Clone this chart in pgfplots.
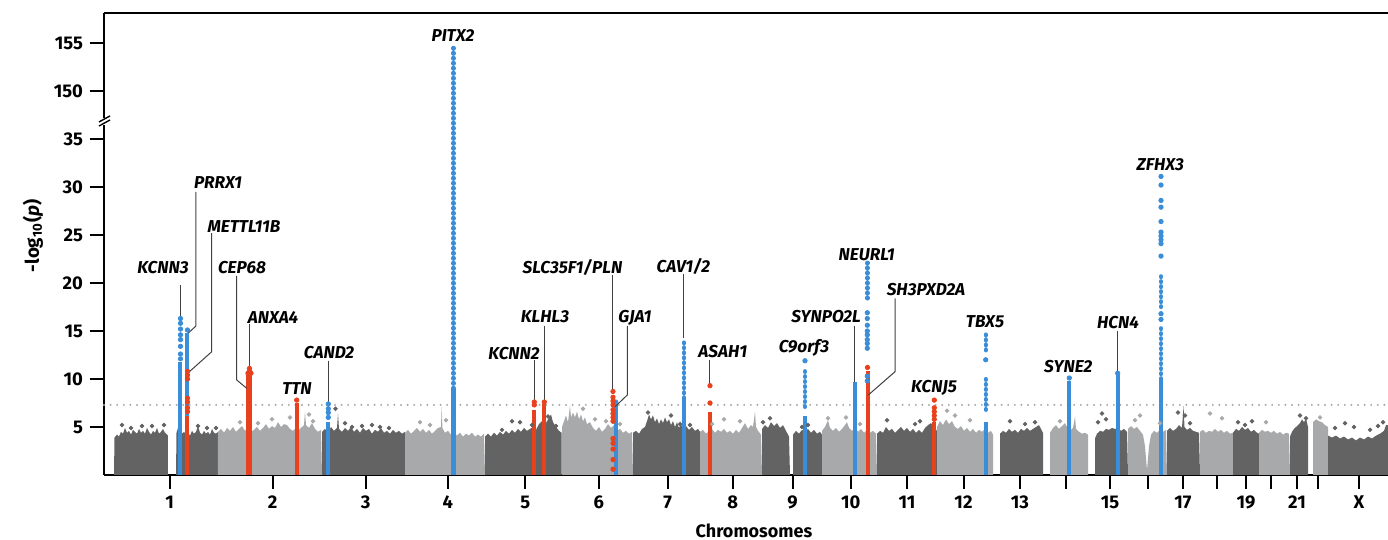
\documentclass[border=0pt]{standalone}
\usepackage{fontspec}
\setmainfont{Fira Sans}
\usepackage{pgfplots}
\pgfplotsset{compat=1.18}
\definecolor{dgrey}{HTML}{636363}
\definecolor{lgrey}{HTML}{A7A9AA}
\definecolor{bcol}{HTML}{3A8DD8}
\definecolor{rcol}{HTML}{E8411E}
\tikzset{
  gl/.style={font=\fontsize{8.6}{10}\selectfont\bfseries\itshape, inner sep=0pt},
  lead/.style={draw=black!75, line width=0.5pt},
}
\pgfplotsset{
  dk/.style={fill=dgrey, draw=none},
  lt/.style={fill=lgrey, draw=none},
  bcolm/.style={bcol, line width=2pt},
  rcolm/.style={rcol, line width=2pt},
  beads/.style={bcol, line width=2.2pt, line cap=round, dash pattern=on 0.3pt off 2.2pt},
  bdot/.style={only marks, mark=*, mark size=1.1pt, color=bcol},
  rdot/.style={only marks, mark=*, mark size=1.1pt, color=rcol},
  ddot/.style={only marks, mark=*, mark size=0.9pt, color=dgrey},
  ldot/.style={only marks, mark=*, mark size=0.9pt, color=lgrey},
}
\begin{document}
\begin{tikzpicture}
\useasboundingbox (-52pt,-32.5pt) rectangle (642pt,237.5pt);
\begin{axis}[
  at={(0,0)}, anchor=south west,
  scale only axis, width=642pt, height=230.75pt,
  xmin=104, xmax=1388, ymin=0, ymax=48.07,
  clip=false,
  axis x line*=bottom, axis y line*=left,
  axis line style={line width=1pt, black},
  tick align=outside, major tick length=7pt,
  tick style={line width=1pt, black},
  xtick={169.7,272.6,365.6,447.7,525.3,598.8,667.6,732.8,792.5,850.7,907,963.5,1019.8,1066,1110,1148,1183,1217,1246,1271,1297,1318,1359},
  xticklabels={1,2,3,4,5,6,7,8,9,10,11,12,13,,15,,17,,19,,21,,X},
  ytick={5,10,15,20,25,30,35,40,45},
  yticklabels={5,10,15,20,25,30,35,150,155},
  ticklabel style={font=\fontsize{9.2}{10}\selectfont\bfseries},
]
% chromosome clouds
\addplot[dk] coordinates {(114,0)(114.5,3.9)(117,4.2)(119,4.0)(121,4.5)(123,4.3)(125,4.9)(127,4.4)(129,4.6)(131,4.2)(133,4.7)(135,4.5)(137,4.3)(139,4.8)(141,4.4)(143,4.6)(145,4.3)(147,4.9)(149,4.5)(151,4.2)(153,4.6)(155,4.4)(157,4.9)(159,4.3)(161,4.5)(163,4.8)(165,4.4)(167,4.2)(168,4.1)(168,0)};
\addplot[dk] coordinates {(176,0)(176.5,4.4)(178,4.9)(180,4.6)(182,4.3)(184,4.5)(186,4.2)(188,4.4)(190,4.1)(192,4.6)(194,4.3)(196,4.5)(198,5.1)(200,4.4)(202,4.2)(204,4.6)(206,4.3)(208,4.5)(210,4.2)(212,4.8)(214,4.4)(216,4.3)(218,4.5)(218,0)};
\addplot[lt] coordinates {(218,0)(218,4.5)(221,4.8)(224,4.4)(227,4.9)(230,4.6)(233,5.0)(236,4.5)(239,4.8)(242,5.1)(245,4.6)(248,4.9)(251,4.5)(254,4.7)(257,5.0)(260,4.6)(263,4.9)(266,5.3)(269,4.8)(272,5.1)(275,4.9)(278,5.5)(281,5.0)(284,5.3)(287,5.2)(290,4.8)(293,4.6)(296,4.9)(299,4.7)(302,5.0)(304,5.2)(305,6.6)(306,5.2)(309,4.9)(312,5.4)(315,4.8)(318,4.5)(321,4.7)(322,0)};
\addplot[dk] coordinates {(322,0)(322,4.5)(325,4.8)(328,4.4)(331,5.0)(334,4.6)(337,4.9)(338,6.4)(339,4.8)(342,4.5)(345,4.9)(348,4.6)(351,5.0)(354,4.5)(357,4.8)(360,4.4)(363,4.9)(366,4.6)(369,4.8)(372,4.3)(375,4.7)(378,4.5)(381,4.9)(384,4.4)(387,4.6)(390,4.3)(393,4.7)(396,4.4)(399,4.6)(402,4.3)(405,4.5)(405,0)};
\addplot[lt] coordinates {(405,0)(405,4.4)(408,4.7)(411,4.3)(414,4.6)(417,4.9)(420,4.5)(423,4.8)(426,4.4)(429,4.7)(432,4.3)(435,4.6)(438,4.9)(441,5.0)(441.7,7.2)(442.4,4.9)(445,4.4)(448,4.6)(451,4.2)(454,4.5)(457,4.1)(460,4.4)(463,4.0)(466,4.3)(469,4.1)(472,4.4)(475,4.0)(478,4.2)(481,4.0)(484,4.3)(485,0)};
\addplot[dk] coordinates {(485,0)(485,4.0)(488,4.3)(491,4.0)(494,4.4)(497,4.1)(500,4.5)(503,4.2)(506,4.6)(509,4.3)(512,4.7)(515,4.4)(518,4.8)(521,4.5)(524,4.9)(527,4.6)(530,4.8)(533,5.0)(536,4.7)(539,5.3)(542,5.6)(545,5.2)(548,5.8)(551,6.3)(553,5.5)(556,5.0)(559,4.6)(561.7,4.4)(561.7,0)};
\addplot[lt] coordinates {(562,0)(562,5.0)(564,5.6)(566,6.2)(568,5.5)(570,7.2)(571,6.0)(573,6.5)(575,6.0)(577,6.6)(579,5.8)(581,6.3)(583,5.6)(585,6.0)(587,5.3)(590,5.5)(593,4.9)(596,4.6)(599,5.0)(602,4.5)(605,4.8)(608,5.3)(611,4.9)(614,5.2)(617,4.6)(620,4.8)(623,4.4)(626,4.6)(629,4.3)(632,4.5)(633,0)};
\addplot[dk] coordinates {(633,0)(633,4.4)(636,4.6)(639,4.3)(642,4.8)(645,5.0)(647,5.6)(649,6.3)(651,5.8)(653,6.2)(655,5.5)(657,5.9)(659,5.3)(661,5.8)(663,5.4)(665,6.0)(667,5.5)(669,5.8)(671,5.2)(673,5.6)(675,5.0)(677,5.5)(679,4.9)(681,5.3)(683,4.8)(686,5.1)(689,4.7)(692,5.0)(695,4.6)(698,4.8)(700,4.5)(700,0)};
\addplot[lt] coordinates {(700,0)(700,4.5)(703,4.7)(706,4.3)(709,4.6)(712,4.8)(715,4.4)(718,4.7)(721,4.5)(724,4.8)(727,4.4)(730,4.6)(733,4.3)(736,4.7)(739,4.4)(742,4.9)(745,5.4)(748,4.8)(751,5.2)(753,5.0)(755,6.6)(756,5.0)(758,4.6)(761,4.2)(762,0)};
\addplot[dk] coordinates {(762,0)(762,4.8)(765,5.2)(768,4.9)(771,5.5)(774,5.1)(777,5.4)(780,4.9)(783,5.2)(786,4.6)(789,4.0)(790,0)};
\addplot[dk] coordinates {(793,0)(793,4.2)(796,4.6)(799,4.3)(802,4.7)(805,4.5)(808,4.8)(811,4.4)(814,4.7)(817,4.3)(820,4.5)(822,4.2)(822,0)};
\addplot[lt] coordinates {(822,0)(822,4.6)(825,5.0)(828,5.7)(830,4.9)(833,4.6)(836,4.9)(839,4.5)(842,4.8)(845,5.2)(847,5.5)(849,4.9)(852,4.6)(855,4.9)(858,4.5)(861,4.8)(864,4.4)(867,4.7)(870,4.4)(873,4.6)(876,4.3)(877,0)};
\addplot[dk] coordinates {(877,0)(877,4.3)(880,4.6)(883,4.4)(886,5.0)(889,4.6)(892,4.8)(895,4.4)(898,4.7)(901,5.0)(904,4.6)(907,4.9)(910,4.5)(913,4.8)(916,4.4)(919,4.7)(922,4.4)(925,4.9)(928,5.2)(931,5.4)(934,5.0)(937,4.6)(937,0)};
\addplot[lt] coordinates {(937,0)(937,5.0)(940,5.6)(943,5.2)(946,5.8)(949,5.3)(952,5.6)(955,5.0)(958,4.8)(961,5.1)(964,4.6)(967,4.9)(970,4.5)(973,4.8)(976,4.4)(979,4.7)(982,4.5)(985,4.8)(988,4.4)(991,4.6)(993,4.2)(993,0)};
\addplot[dk] coordinates {(1000,0)(1000,4.3)(1003,4.6)(1006,4.4)(1009,4.8)(1012,4.5)(1015,4.7)(1018,4.4)(1021,4.8)(1024,4.6)(1027,4.9)(1030,4.6)(1033,4.8)(1036,5.0)(1039,5.2)(1041,4.8)(1043,4.4)(1043,0)};
\addplot[lt] coordinates {(1050,0)(1050,4.4)(1053,4.9)(1056,5.2)(1059,4.8)(1062,5.1)(1065,5.4)(1067,5.0)(1070,4.6)(1073,4.9)(1075,6.1)(1076,4.8)(1079,4.5)(1082,4.3)(1085,4.4)(1088,4.2)(1088,0)};
\addplot[dk] coordinates {(1095,0)(1095,3.8)(1097,4.3)(1100,4.6)(1103,4.5)(1106,4.8)(1109,4.7)(1112,4.9)(1115,4.8)(1118,4.9)(1121,4.6)(1124,4.8)(1127,4.5)(1128,0)};
\addplot[lt] coordinates {(1128,0)(1128,4.8)(1131,5.1)(1134,4.8)(1137,5.0)(1140,4.6)(1143,4.2)(1145,3.0)(1147,0.5)(1149,3.0)(1151,4.2)(1154,4.6)(1157,4.4)(1160,4.7)(1163,4.5)(1166,4.7)(1167,0)};
\addplot[dk] coordinates {(1167,0)(1167,4.6)(1170,4.9)(1173,4.6)(1176,4.8)(1179,5.2)(1182,4.9)(1183.5,7.2)(1184.5,5.0)(1187,4.7)(1190,4.9)(1193,4.6)(1196,4.5)(1199,4.4)(1200,0)};
\addplot[lt] coordinates {(1200,0)(1200,4.5)(1203,4.7)(1206,4.4)(1209,4.6)(1212,4.5)(1215,4.8)(1218,4.5)(1221,4.7)(1224,4.4)(1227,4.6)(1230,4.3)(1233,4.4)(1233,0)};
\addplot[dk] coordinates {(1233,0)(1233,4.4)(1236,4.8)(1239,4.6)(1242,5.0)(1245,4.7)(1248,4.9)(1251,4.5)(1254,4.7)(1257,4.4)(1259,4.3)(1259,0)};
\addplot[lt] coordinates {(1259,0)(1259,4.4)(1262,4.7)(1265,4.5)(1268,4.6)(1271,4.4)(1274,4.6)(1277,4.3)(1280,4.5)(1283,4.2)(1286,4.4)(1289,4.3)(1290,0)};
\addplot[dk] coordinates {(1290,0)(1290,4.0)(1292,4.5)(1294,4.8)(1296,5.0)(1298,5.2)(1300,5.4)(1302,5.8)(1304,5.5)(1306,5.9)(1308,5.0)(1308,0)};
\addplot[lt] coordinates {(1313,0)(1313,5.5)(1316,5.8)(1319,5.6)(1322,5.5)(1325,5.2)(1328,5.0)(1328,0)};
\addplot[dk] coordinates {(1328,0)(1328,4.1)(1332,3.9)(1336,4.1)(1340,3.8)(1344,4.0)(1348,3.7)(1352,3.9)(1356,3.6)(1360,3.9)(1364,3.7)(1368,4.0)(1372,3.8)(1376,4.1)(1380,4.3)(1384,4.6)(1386,5.2)(1388,5.2)(1388,0)};
% scattered points above the clouds
\addplot[ddot] coordinates {(122,5.2)(131,4.9)(142,5.1)(152,5.1)(164,5.2)(198,5.1)(207,4.9)(216,4.9)(335.5,6.9)(345,5.4)(352,5.0)(362,5.1)(372,5.2)(380,5.0)(389,4.9)(502,4.7)(512,5.6)(520,5.5)(532,5.2)(548,6.1)(556,5.1)(648,6.5)(671,6.2)(680,5.3)(690,5.2)(763,5.5)(770,5.9)(802,5.0)(808,5.2)(887,5.7)(915,5.3)(920,5.6)(930,5.0)(1010,5.6)(1025,5.3)(1035,5.5)(1098,5.5)(1102,6.4)(1106,5.8)(1178,6.5)(1185,6.2)(1190,5.4)(1238,5.5)(1245,5.2)(1252,5.6)(1300,6.2)(1306,5.9)(1335,4.9)(1345,5.4)(1354,5.0)(1370,4.7)(1378,5.1)(1383,5.5)};
\addplot[ldot] coordinates {(240,5.5)(258,5.4)(272,5.8)(290,6.0)(309,6.3)(313,5.6)(420,5.5)(430,5.2)(446,5.7)(583,6.9)(595,5.8)(606,5.6)(620,5.3)(712,5.3)(724,5.8)(740,5.6)(828,5.9)(846,6.0)(860,5.3)(947,6.7)(955,6.2)(970,5.7)(1060,5.6)(1135,5.7)(1140,6.2)(1160,5.4)(1210,6.4)(1222,5.9)(1266,5.5)(1320,6.0)};
% genome-wide threshold
\addplot[black!35, line width=1.1pt, line cap=round, dash pattern=on 0pt off 3.3pt] coordinates {(104,7.3)(1390,7.3)};
% associated loci
\addplot[bcolm] coordinates {(180.5,0)(180.5,11.8)};
\addplot[bdot] coordinates {(180.5,16.3)(180.5,15.8)(180.5,15.2)(180.5,14.6)(180.5,14.1)(180.5,13.4)(180.5,12.6)(180.5,12.1)};
\addplot[bcolm] coordinates {(187.5,6.1)(187.5,14.8)};
\addplot[bdot] coordinates {(187.5,15.1)};
\addplot[rcolm] coordinates {(187.5,0)(187.5,6.1)};
\addplot[rdot] coordinates {(187.5,10.8)(187.5,10.4)(187.5,10.0)(187.5,8.0)(187.5,7.6)(187.5,7.0)(187.5,6.6)};
\addplot[rcol, line width=3pt] coordinates {(249.5,0)(249.5,10.4)};
\addplot[rdot] coordinates {(249.5,11.1)(249.5,10.8)(248,10.6)(251,10.6)};
\addplot[rcolm] coordinates {(296.7,0)(296.7,7.5)};
\addplot[rdot] coordinates {(296.7,7.8)};
\addplot[bcolm] coordinates {(328.3,0)(328.3,5.5)};
\addplot[bdot] coordinates {(328.3,7.4)(328.3,6.9)(328.3,6.5)(328.3,6.0)};
\addplot[bcol, line width=2.2pt] coordinates {(453.3,0)(453.3,9)};
\addplot[beads] coordinates {(453.3,9)(453.3,44.6)};
\addplot[rcolm] coordinates {(534.3,0)(534.3,6.8)};
\addplot[rdot] coordinates {(534.3,7.6)(534.3,7.3)};
\addplot[rcolm] coordinates {(544.3,0)(544.3,7.4)};
\addplot[rdot] coordinates {(544.3,7.6)};
\addplot[bcolm] coordinates {(615.7,0)(615.7,7.4)};
\addplot[bdot] coordinates {(615.7,7.6)};
\addplot[rdot] coordinates {(613,8.7)(613,8.1)(613,7.7)(613,7.3)(613,6.8)(613,6.4)(613,6.0)(613,5.6)(613,3.8)(613,3.3)(613,2.7)(613,1.6)(613,0.6)};
\addplot[bcolm] coordinates {(684,0)(684,8)};
\addplot[beads] coordinates {(684,8)(684,14.2)};
\addplot[rcolm] coordinates {(710,0)(710,6.6)};
\addplot[rdot] coordinates {(710,9.3)(710,7.5)};
\addplot[bcolm] coordinates {(805,0)(805,6.1)};
\addplot[beads] coordinates {(805,7.1)(805,10.8)};
\addplot[bdot] coordinates {(805,11.9)};
\addplot[bcolm] coordinates {(854.5,0)(854.5,9.7)};
\addplot[beads] coordinates {(867.3,18.4)(867.3,22.1)};
\addplot[bdot] coordinates {(867.3,16.9)(867.3,16.3)(867.3,15.6)(867.3,15.0)(867.3,14.6)(867.3,14.1)(867.3,13.7)(867.3,13.2)};
\addplot[rcolm] coordinates {(867.5,0)(867.5,10.8)};
\addplot[rdot] coordinates {(867.5,11.2)};
\addplot[bdot] coordinates {(867.3,10.3)(867.3,9.8)};
\addplot[rcolm] coordinates {(934.3,0)(934.3,5.5)};
\addplot[rdot] coordinates {(934.3,7.8)(934.3,7.0)(934.3,6.6)(934.3,6.2)(934.3,5.8)};
\addplot[bcolm] coordinates {(985.7,0)(985.7,5.5)};
\addplot[beads] coordinates {(985.7,6.8)(985.7,10.2)};
\addplot[beads] coordinates {(985.7,13.0)(985.7,14.9)};
\addplot[bdot] coordinates {(985.7,12.0)};
\addplot[bcolm] coordinates {(1069.3,0)(1069.3,9.8)};
\addplot[bdot] coordinates {(1069.3,10.1)};
\addplot[bcolm] coordinates {(1117.7,0)(1117.7,10.4)};
\addplot[bdot] coordinates {(1117.7,10.6)};
\addplot[bcolm] coordinates {(1161,0)(1161,10)};
\addplot[beads] coordinates {(1161,10)(1161,15.4)};
\addplot[beads] coordinates {(1161,17.5)(1161,20.7)};
\addplot[bdot] coordinates {(1161,31.1)(1161,30.2)(1161,28.6)(1161,27.9)(1161,26.4)(1161,25.3)(1161,24.9)(1161,24.5)(1161,24.1)(1161,22.8)(1161,16.8)(1161,16.2)};
% leader lines
\draw[lead] (axis cs:181,19.79) -- (axis cs:181,16.35);
\draw[lead] (axis cs:196,29.5) -- (axis cs:196,15.52) -- (axis cs:188.3,14.79);
\draw[lead] (axis cs:211.7,25.2) -- (axis cs:211.7,12.84) -- (axis cs:188.3,10.66);
\draw[lead] (axis cs:236.7,20.73) -- (axis cs:236.7,9.9) -- (axis cs:246.7,9.03);
\draw[lead] (axis cs:250,15.73) -- (axis cs:250,11.11);
\draw[lead] (axis cs:328.3,11.9) -- (axis cs:328.3,7.5);
\draw[lead] (axis cs:534.7,11.98) -- (axis cs:534.7,7.64);
\draw[lead] (axis cs:544,15.52) -- (axis cs:544,7.64);
\draw[lead] (axis cs:612.7,20.83) -- (axis cs:612.7,8.85);
\draw[lead] (axis cs:627.3,15.52) -- (axis cs:627.3,8.33) -- (axis cs:615,7.11);
\draw[lead] (axis cs:683.3,20.94) -- (axis cs:683.3,14.27);
\draw[lead] (axis cs:709.3,11.98) -- (axis cs:709.3,9.375);
\draw[lead] (axis cs:854.3,15.52) -- (axis cs:854.3,9.72);
\draw[lead] (axis cs:895,18.4) -- (axis cs:895,10.76) -- (axis cs:868.3,8.33);
\draw[lead] (axis cs:1117.7,15.03) -- (axis cs:1117.7,10.76);
% gene labels
\node[gl] at (axis cs:163,21.56) {KCNN3};
\node[gl] at (axis cs:218,30.42) {PRRX1};
\node[gl] at (axis cs:244,25.83) {METTL11B};
\node[gl] at (axis cs:242,21.56) {CEP68};
\node[gl] at (axis cs:273,16.35) {ANXA4};
\node[gl] at (axis cs:297,9.01) {TTN};
\node[gl] at (axis cs:329,12.71) {CAND2};
\node[gl] at (axis cs:453,45.78) {PITX2};
\node[gl] at (axis cs:514,12.66) {KCNN2};
\node[gl] at (axis cs:545,16.49) {KLHL3};
\node[gl] at (axis cs:572.5,21.61) {SLC35F1/PLN};
\node[gl] at (axis cs:635,16.35) {GJA1};
\node[gl] at (axis cs:683.3,21.70) {CAV1/2};
\node[gl] at (axis cs:722.8,12.86) {ASAH1};
\node[gl] at (axis cs:804,13.2) {C9orf3};
\node[gl] at (axis cs:826,16.46) {SYNPO2L};
\node[gl] at (axis cs:866.7,22.92) {NEURL1};
\node[gl] at (axis cs:926,19.27) {SH3PXD2A};
\node[gl] at (axis cs:934,9.03) {KCNJ5};
\node[gl] at (axis cs:985,15.97) {TBX5};
\node[gl] at (axis cs:1068.3,11.25) {SYNE2};
\node[gl] at (axis cs:1118,15.83) {HCN4};
\node[gl] at (axis cs:1160.3,32.29) {ZFHX3};
% frame top, axis break, axis titles
\draw[line width=1pt] (rel axis cs:0,1) -- (rel axis cs:1,1);
\fill[white] (axis cs:102,36.45) rectangle (axis cs:106,37.2);
\draw[line width=0.7pt] (axis cs:99,36.35) -- (axis cs:110,36.98);
\draw[line width=0.7pt] (axis cs:99,36.77) -- (axis cs:110,37.40);
\node[font=\fontsize{9}{10}\selectfont\bfseries, inner sep=0pt] at ([yshift=-28pt]axis cs:754,0) {Chromosomes};
\node[rotate=90, font=\fontsize{9.4}{11}\selectfont\bfseries, inner sep=0pt] at ([xshift=-35.5pt]axis cs:104,24.9) {-log\textsubscript{10}(\textit{p})};
\end{axis}
\end{tikzpicture}
\end{document}
